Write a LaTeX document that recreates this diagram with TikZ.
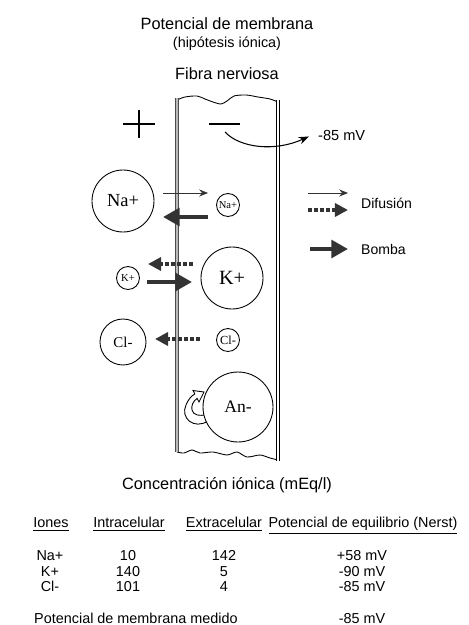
\documentclass[tikz,border=0pt]{standalone}
\usepackage{fontspec}
\setmainfont{Liberation Sans}
\newfontfamily\ionfont{Liberation Serif}
\usetikzlibrary{arrows.meta, positioning}
\newcommand{\fs}[1]{\fontsize{#1}{#1}\selectfont}

\begin{document}
\begin{tikzpicture}[x=0.02cm, y=-0.02cm, >=Stealth,
    ion/.style={draw, circle, fill=white, inner sep=0pt, line width=0.5pt},
    bigion/.style={ion, minimum size=1.24cm},
    smallion/.style={ion, minimum size=0.46cm},
    titletxt/.style={font=\fs{9.3}},
    tabtxt/.style={font=\fs{8.2}, text height=1.5ex, text depth=.3ex},
    difusion/.style={gray!40!black, line width=0.5pt, -{Stealth[length=5pt, width=4pt]}},
    difpunt/.style={black!80, line width=2pt, dash pattern=on 2.2pt off 1.2pt,
                    -{Triangle[length=7.5pt, width=7.5pt]}},
    bomba/.style={black!80, line width=2.8pt, -{Triangle[length=9.5pt, width=10pt]}}]
  \useasboundingbox (0,0) rectangle (469,625);

  % titles
  \node[titletxt] (tit) at (227,24) {Potencial de membrana};
  \node[font=\fs{8.2}] (sub) at (227,44) {(hipótesis iónica)};
  \node[titletxt] (fib) at (227,74) {Fibra nerviosa};

  % fibre
  \draw[line width=0.5pt] plot[smooth] coordinates {(177,100) (185,97) (197,96) (205,99)
      (213,102) (221,104) (227,101) (234,96) (246,95) (258,97) (270,99) (278,102)};
  \draw[line width=0.5pt] plot[smooth] coordinates {(177,452) (184,453) (192,450) (200,453)
      (213,452) (227,455) (237,452) (247,457) (260,455) (270,458) (278,460)};
  \draw[double=gray!55, double distance=1.2pt, line width=0.35pt, draw=gray!60!black]
      (177,98) -- (177,452);
  \draw[double=white, double distance=1.3pt, line width=0.45pt] (278,100) -- (278,461);

  % charges
  \draw[line width=1.1pt] (123,124) -- (155,124) (139,110) -- (139,138);
  \draw[line width=1.1pt] (209,124) -- (240,124);
  \coordinate (mvs) at (225,132);
  \node[font=\fs{8.3}, anchor=west] (mv) at (312,135) {-85 mV};
  \draw[->, line width=0.6pt, shorten >=2pt] (mvs) .. controls (240,148) and (275,152) .. (mv.west);

  % ions
  \node[bigion, font=\ionfont\fs{10.5}] (na) at (123,201) {Na+};
  \node[smallion, font=\ionfont\fs{6}] (na2) at (228,205) {Na+};
  \node[bigion, font=\ionfont\fs{11.5}] (k) at (232,278) {K+};
  \node[smallion, font=\ionfont\fs{6}] (k2) at (128,278) {K+};
  \node[ion, minimum size=0.92cm, font=\ionfont\fs{8.5}] (cl) at (123,342) {Cl-};
  \node[smallion, font=\ionfont\fs{7}] (cl2) at (228,340) {Cl-};

  % hollow turning arrow
  \draw[fill=white, line width=0.5pt] (208,421) .. controls (194,430) and (180,418) .. (186,405)
      .. controls (188,400) and (191,396) .. (194.8,394)
      -- (193,390.5) -- (204,392) -- (199,402) -- (197.2,398.4)
      .. controls (193,401) and (191,406) .. (192,410)
      .. controls (193,415) and (200,417) .. (207,414) -- cycle;
  \node[ion, minimum size=1.4cm, font=\ionfont\fs{10}] (an) at (238,407) {An-};

  % fluxes
  \coordinate (nadA) at (163,193); \coordinate (nadB) at (208,193);
  \coordinate (nabA) at (208,217); \coordinate (nabB) at (163,217);
  \coordinate (kdA) at (193,264);  \coordinate (kdB) at (148,264);
  \coordinate (kbA) at (147,282);  \coordinate (kbB) at (192,282);
  \coordinate (cldA) at (200,339); \coordinate (cldB) at (155,339);
  \draw[difusion] (nadA) -- (nadB);
  \draw[bomba] (nabA) -- (nabB);
  \draw[difpunt] (kdA) -- (kdB);
  \draw[bomba] (kbA) -- (kbB);
  \draw[difpunt] (cldA) -- (cldB);

  % legend
  \coordinate (l1) at (308,193); \coordinate (l1e) at (348,193);
  \coordinate (l2) at (308,210); \coordinate (l2e) at (348,210);
  \coordinate (l3) at (310,249); \coordinate (l3e) at (348,249);
  \draw[difusion] (l1) -- (l1e);
  \draw[difpunt] (l2) -- (l2e);
  \draw[bomba] (l3) -- (l3e);
  \node[font=\fs{8}, anchor=west] (dif) at (355,203) {Difusión};
  \node[font=\fs{8}, anchor=west] (bom) at (355,249) {Bomba};

  % table
  \node[titletxt] (conc) at (227,485) {Concentración iónica (mEq/l)};
  \node[tabtxt] (h1) at (51,522) {\underline{Iones}};
  \node[tabtxt] (h2) at (129,522) {\underline{Intracelular}};
  \node[tabtxt] (h3) at (224,522) {\underline{Extracelular}};
  \node[tabtxt] (h4) at (363,522) {\underline{Potencial de equilibrio (Nerst)}};
  \node[tabtxt] at (50,555) {Na+};  \node[tabtxt] at (128,555) {10};
  \node[tabtxt] at (224,555) {142}; \node[tabtxt] at (362,555) {+58 mV};
  \node[tabtxt] at (50,571) {K+};   \node[tabtxt] at (128,571) {140};
  \node[tabtxt] at (224,571) {5};   \node[tabtxt] at (362,571) {-90 mV};
  \node[tabtxt] at (50,586) {Cl-};  \node[tabtxt] at (128,586) {101};
  \node[tabtxt] at (224,586) {4};   \node[tabtxt] at (362,586) {-85 mV};
  \node[tabtxt, anchor=west] (med) at (28,618) {Potencial de membrana medido};
  \node[tabtxt] at (362,618) {-85 mV};
\end{tikzpicture}
\end{document}
